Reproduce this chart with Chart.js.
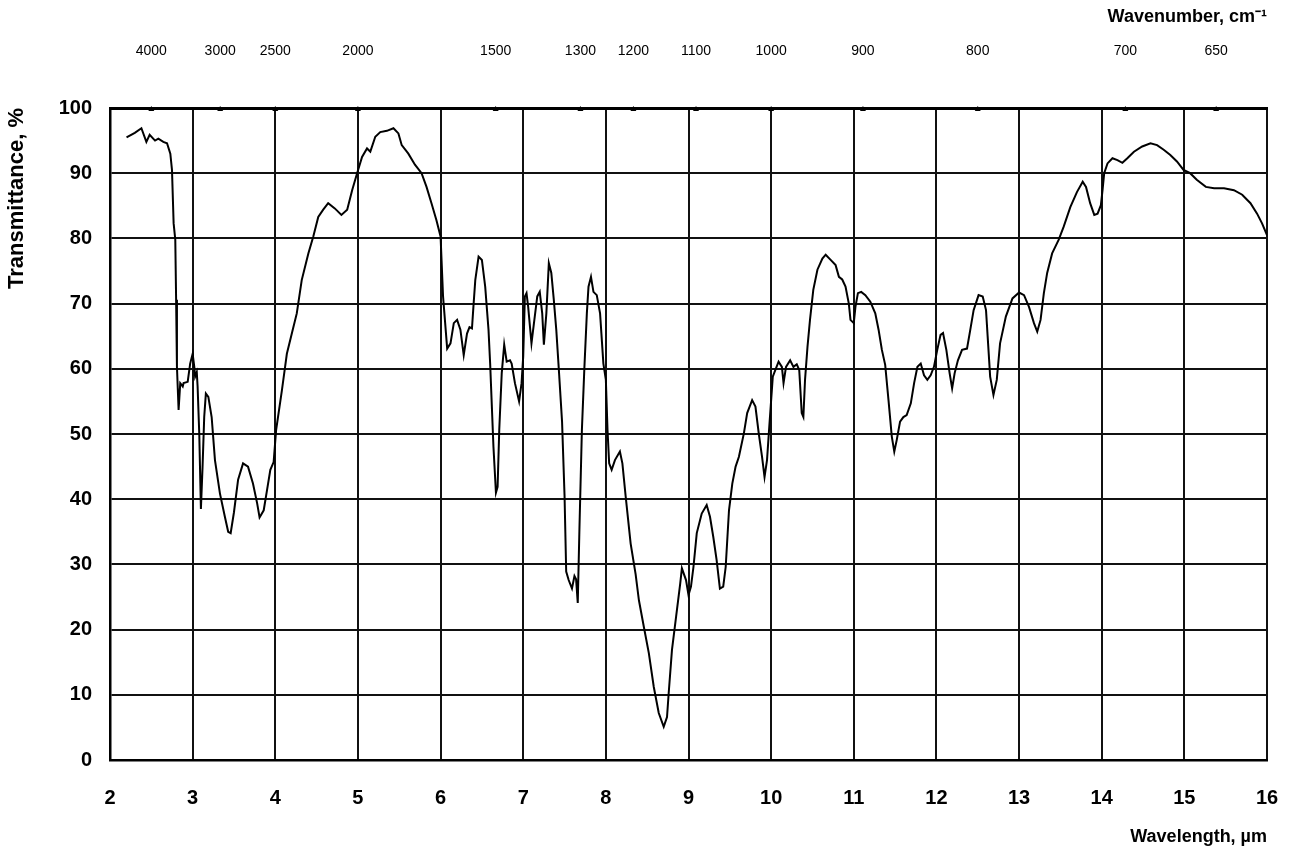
<!DOCTYPE html>
<html>
<head>
<meta charset="utf-8">
<title>IR spectrum</title>
<script src="https://cdn.jsdelivr.net/npm/chart.js@4"></script>
<style>
    body { margin: 0; background: #fff; }
    #wrap { width: 1297px; height: 854px; }
</style>
</head>
<body>
<div id="wrap"><canvas id="spectrum" width="1297" height="854"></canvas></div>
<script>
// Spectrum data
const wavelength = [
    2.20, 2.30, 2.38, 2.44, 2.48, 2.545, 2.585, 2.645, 2.69, 2.73, 2.75, 2.77, 2.79, 2.80, 2.81, 2.83, 2.85, 2.88, 2.89, 2.94,
    2.97, 3.00, 3.02, 3.03, 3.05, 3.06, 3.08, 3.10, 3.12, 3.14, 3.16, 3.19, 3.23, 3.27, 3.33, 3.39, 3.43, 3.46, 3.50, 3.55,
    3.61, 3.67, 3.73, 3.78, 3.81, 3.86, 3.90, 3.94, 3.98, 4.01, 4.08, 4.14, 4.20, 4.26, 4.32, 4.40, 4.46, 4.52, 4.58, 4.64,
    4.72, 4.80, 4.87, 4.93, 4.99, 5.05, 5.11, 5.15, 5.21, 5.27, 5.35, 5.43, 5.49, 5.53, 5.61, 5.69, 5.77, 5.83, 5.89, 5.95,
    6.00, 6.03, 6.08, 6.12, 6.16, 6.20, 6.24, 6.28, 6.32, 6.35, 6.38, 6.40, 6.42, 6.46, 6.50, 6.54, 6.58, 6.60, 6.64, 6.67,
    6.69, 6.71, 6.74, 6.77, 6.80, 6.84, 6.86, 6.90, 6.95, 6.98, 7.00, 7.02, 7.04, 7.06, 7.10, 7.13, 7.17, 7.20, 7.23, 7.25,
    7.28, 7.31, 7.34, 7.37, 7.40, 7.43, 7.47, 7.50, 7.52, 7.55, 7.59, 7.62, 7.64, 7.66, 7.68, 7.71, 7.74, 7.77, 7.79, 7.82,
    7.85, 7.89, 7.93, 7.97, 8.00, 8.02, 8.04, 8.07, 8.11, 8.17, 8.20, 8.24, 8.30, 8.36, 8.40, 8.46, 8.52, 8.58, 8.64, 8.70,
    8.74, 8.76, 8.80, 8.85, 8.90, 8.92, 8.97, 9.00, 9.03, 9.06, 9.10, 9.16, 9.22, 9.26, 9.30, 9.34, 9.38, 9.42, 9.45, 9.49,
    9.53, 9.57, 9.61, 9.67, 9.71, 9.77, 9.81, 9.85, 9.89, 9.92, 9.95, 9.98, 10.02, 10.05, 10.09, 10.13, 10.15, 10.18, 10.23, 10.27,
    10.31, 10.34, 10.37, 10.39, 10.41, 10.44, 10.47, 10.51, 10.56, 10.62, 10.66, 10.72, 10.78, 10.82, 10.86, 10.90, 10.94, 10.96, 11.00, 11.02,
    11.05, 11.09, 11.14, 11.20, 11.26, 11.30, 11.34, 11.38, 11.42, 11.46, 11.49, 11.52, 11.56, 11.60, 11.64, 11.69, 11.73, 11.77, 11.81, 11.85,
    11.89, 11.93, 11.97, 12.01, 12.05, 12.08, 12.12, 12.16, 12.19, 12.22, 12.26, 12.31, 12.37, 12.41, 12.45, 12.51, 12.56, 12.60, 12.63, 12.65,
    12.69, 12.73, 12.77, 12.84, 12.92, 13.00, 13.06, 13.12, 13.18, 13.22, 13.26, 13.30, 13.34, 13.40, 13.48, 13.54, 13.62, 13.70, 13.77, 13.81,
    13.86, 13.91, 13.95, 13.99, 14.01, 14.03, 14.07, 14.13, 14.19, 14.25, 14.31, 14.39, 14.49, 14.59, 14.67, 14.75, 14.83, 14.91, 14.99, 15.07,
    15.15, 15.26, 15.36, 15.48, 15.60, 15.70, 15.80, 15.88, 15.94, 16.00
];
const transmittance = [
    95.5, 96.2, 96.9, 94.8, 95.9, 95.0, 95.3, 94.8, 94.6, 93.0, 90.5, 82.3, 79.8, 70.6, 60.3, 53.7, 57.8, 57.3, 57.8, 58.0,
    60.8, 62.3, 60.3, 58.8, 59.5, 57.3, 50.1, 38.5, 45.0, 52.6, 56.2, 55.7, 52.6, 46.0, 40.9, 37.3, 35.0, 34.8, 38.0, 43.0,
    45.5, 45.0, 42.4, 39.4, 37.2, 38.3, 41.4, 44.5, 45.7, 50.6, 56.7, 62.3, 65.4, 68.5, 73.6, 77.7, 80.3, 83.3, 84.4, 85.4,
    84.6, 83.6, 84.4, 87.4, 90.0, 92.5, 93.8, 93.3, 95.6, 96.3, 96.5, 96.9, 96.1, 94.3, 93.0, 91.3, 90.0, 87.9, 85.4, 82.8,
    80.3, 71.1, 63.1, 63.9, 67.0, 67.5, 66.0, 62.1, 65.4, 66.4, 66.2, 70.0, 73.6, 77.2, 76.7, 72.6, 66.0, 60.8, 48.0, 41.0,
    41.9, 50.6, 59.3, 63.7, 61.1, 61.3, 60.8, 57.8, 55.0, 57.8, 61.9, 71.1, 71.6, 69.5, 63.9, 67.0, 71.1, 71.8, 68.5, 63.7,
    68.5, 76.2, 74.7, 70.6, 66.0, 60.1, 51.9, 40.6, 28.9, 27.6, 26.3, 28.2, 27.7, 24.1, 35.3, 50.6, 60.1, 68.5, 72.6, 74.1,
    71.8, 71.3, 68.5, 60.8, 58.3, 50.6, 45.5, 44.5, 46.0, 47.3, 45.5, 40.4, 33.2, 28.5, 24.5, 20.4, 16.4, 11.2, 7.2, 5.1,
    6.6, 10.2, 16.9, 22.0, 27.1, 29.4, 27.6, 25.3, 26.6, 29.6, 34.8, 37.8, 39.1, 37.3, 34.2, 30.7, 26.3, 26.6, 29.6, 38.3,
    42.4, 45.0, 46.5, 50.1, 53.2, 55.2, 54.2, 50.1, 46.5, 43.4, 46.0, 51.6, 58.8, 59.8, 61.1, 60.3, 57.8, 60.3, 61.3, 60.3,
    60.7, 59.8, 53.2, 52.6, 58.3, 63.4, 67.5, 72.1, 75.2, 76.9, 77.5, 76.7, 75.9, 74.1, 73.7, 72.6, 70.0, 67.5, 67.0, 69.5,
    71.6, 71.8, 71.3, 70.3, 68.5, 66.0, 62.9, 60.6, 55.2, 49.6, 47.3, 49.1, 51.9, 52.6, 52.9, 54.7, 57.8, 60.3, 60.8, 59.0,
    58.3, 59.0, 60.3, 62.9, 65.2, 65.5, 62.9, 59.3, 57.0, 59.3, 61.3, 62.9, 63.1, 66.0, 69.0, 71.3, 71.1, 69.0, 62.9, 58.8,
    56.0, 58.3, 63.9, 68.0, 70.8, 71.7, 71.3, 69.5, 67.0, 65.7, 67.5, 71.6, 74.7, 77.7, 79.8, 81.8, 84.8, 87.1, 88.7, 87.9,
    85.4, 83.6, 83.8, 85.1, 87.4, 90.0, 91.5, 92.3, 92.0, 91.6, 92.3, 93.3, 94.1, 94.6, 94.3, 93.6, 92.8, 91.8, 90.5, 90.0,
    89.0, 87.9, 87.7, 87.7, 87.4, 86.7, 85.4, 83.8, 82.3, 80.5
];

// Top axis: wavenumbers marked along the upper edge
const wavenumberTicks = [4000, 3000, 2500, 2000, 1500, 1300, 1200, 1100, 1000, 900, 800, 700, 650];

Chart.defaults.font.family = '"Liberation Sans", Arial, sans-serif';
Chart.defaults.color = '#000';

const points = wavelength.map((x, i) => ({ x: x, y: transmittance[i] }));

// little triangles on the top border where each wavenumber falls
const topMarks = {
    id: 'topMarks',
    afterDraw(chart) {
        const s = chart.scales.x2;
        const top = chart.chartArea.top;
        const ctx = chart.ctx;
        ctx.save();
        ctx.fillStyle = '#000';
        s.ticks.forEach(t => {
            const px = s.getPixelForValue(t.value);
            ctx.beginPath();
            ctx.moveTo(px - 3, top + 3);
            ctx.lineTo(px + 3, top + 3);
            ctx.lineTo(px, top - 2);
            ctx.closePath();
            ctx.fill();
        });
        ctx.restore();
    }
};

const ctx = document.getElementById('spectrum').getContext('2d');
new Chart(ctx, {
    type: 'line',
    data: {
        datasets: [{
            data: points,
            borderColor: '#000',
            borderWidth: 2,
            pointRadius: 0,
            tension: 0,
            fill: false
        }]
    },
    options: {
        responsive: false,
        animation: false,
        layout: { padding: { left: 0, right: 30, top: 0, bottom: 0 } },
        plugins: {
            legend: { display: false },
            tooltip: { enabled: false }
        },
        scales: {
            x: {
                type: 'linear',
                position: 'bottom',
                min: 2,
                max: 16,
                ticks: { stepSize: 1, padding: 26, font: { size: 20, weight: 'bold' }, maxRotation: 0 },
                grid: { color: '#111', lineWidth: 2, drawTicks: false },
                border: { color: '#000', width: 2.5 },
                title: { display: true, text: 'Wavelength, µm', align: 'end', font: { size: 18, weight: 'bold' }, padding: { top: 0, bottom: 6 } },
                afterFit: (s) => {
                    s.height = 94;
                    s.paddingLeft = 0;
                    s.paddingRight = 0;
                }
            },
            x2: {
                type: 'linear',
                position: 'top',
                min: 2,
                max: 16,
                afterBuildTicks: (axis) => {
                    axis.ticks = wavenumberTicks.map(w => ({ value: 10000 / w }));
                },
                ticks: {
                    autoSkip: false,
                    maxRotation: 0,
                    padding: 48,
                    font: { size: 14 },
                    callback: (v) => String(Math.round(10000 / v))
                },
                grid: { display: false, drawTicks: false },
                border: { color: '#000', width: 3 },
                title: { display: true, text: 'Wavenumber, cm⁻¹', align: 'end', font: { size: 18, weight: 'bold' }, padding: { top: 6, bottom: 0 } },
                afterFit: (s) => {
                    s.height = 108;
                    s.paddingLeft = 0;
                    s.paddingRight = 0;
                }
            },
            y: {
                min: 0,
                max: 100,
                ticks: { stepSize: 10, padding: 18, font: { size: 20, weight: 'bold' } },
                grid: { color: '#111', lineWidth: 2, drawTicks: false },
                border: { color: '#000', width: 2.5 },
                title: { display: true, text: 'Transmittance, %', align: 'end', font: { size: 22, weight: 'bold' }, padding: { top: 4, bottom: 0 } },
                afterFit: (s) => { s.width = 110; }
            }
        }
    },
    plugins: [topMarks]
});
</script>
</body>
</html>
